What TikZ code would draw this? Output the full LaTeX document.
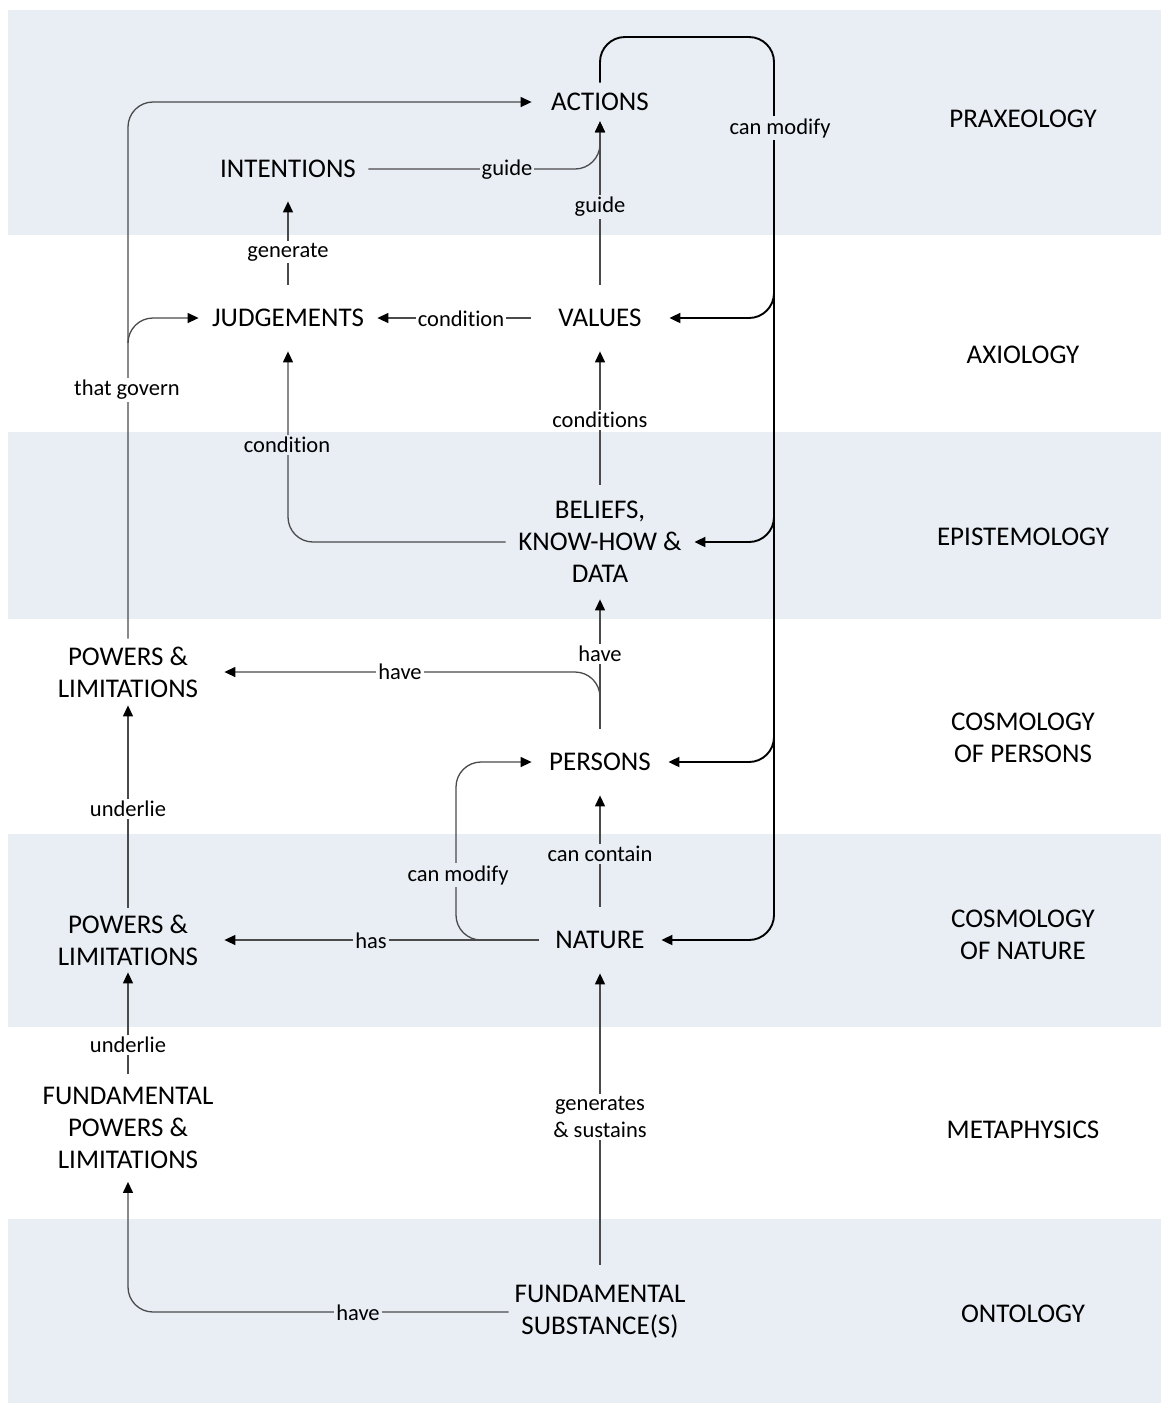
\documentclass[tikz,border=0pt]{standalone}
\usepackage{fontspec}
\setmainfont{Carlito}[Ligatures={NoCommon}]
\usetikzlibrary{arrows.meta}
\definecolor{band}{HTML}{E9EDF4}
\definecolor{lnc}{HTML}{4A4A4A}
\tikzset{
  box/.style 2 args={inner sep=0pt, minimum width=#1*0.5pt, minimum height=#2*0.5pt,
     align=center, font=\fontsize{13.5}{16}\selectfont},
  lay/.style={inner sep=0pt, align=center, font=\fontsize{13.5}{16}\selectfont},
  lblw/.style={fill=white, inner sep=1pt, align=center, font=\fontsize{11.25}{13.5}\selectfont},
  lblb/.style={fill=band, inner sep=1pt, align=center, font=\fontsize{11.25}{13.5}\selectfont},
  tip/.style={-{Triangle[length=5.5pt,width=5pt,color=black]}},
  conn/.style={draw=lnc, line width=0.65pt, rounded corners=12.5pt, tip},
  loopc/.style={draw=black, line width=0.95pt, rounded corners=12.5pt, tip}
}
\begin{document}
\begin{tikzpicture}[x=0.5pt,y=-0.5pt]
\useasboundingbox (0,0) rectangle (1161,1405);
% bands
\fill[band] (8,10) rectangle (1161,235);
\fill[band] (8,432) rectangle (1161,619);
\fill[band] (8,834) rectangle (1161,1027);
\fill[band] (8,1219) rectangle (1161,1403);
% layer names
\node[lay] (lpra) at (1023,119) {PRAXEOLOGY};
\node[lay] (laxi) at (1023,355) {AXIOLOGY};
\node[lay] (lepi) at (1023,537) {EPISTEMOLOGY};
\node[lay] (lcop) at (1023,738) {COSMOLOGY\\OF PERSONS};
\node[lay] (lcon) at (1023,935) {COSMOLOGY\\OF NATURE};
\node[lay] (lmet) at (1023,1130) {METAPHYSICS};
\node[lay] (lont) at (1023,1314) {ONTOLOGY};
% nodes
\node[box={136}{38}] (act) at (600,102) {ACTIONS};
\node[box={160}{64}] (int) at (288,169) {INTENTIONS};
\node[box={178}{66}] (jud) at (288,318) {JUDGEMENTS};
\node[box={138}{66}] (val) at (600,318) {VALUES};
\node[box={188}{114}] (bel) at (600,542) {BELIEFS,\\KNOW-HOW \&\\DATA};
\node[box={192}{66}] (pw1) at (128,672) {POWERS \&\\LIMITATIONS};
\node[box={136}{66}] (per) at (600,762) {PERSONS};
\node[box={192}{64}] (pw2) at (128,940) {POWERS \&\\LIMITATIONS};
\node[box={122}{66}] (nat) at (600,940) {NATURE};
\node[box={200}{107}] (fpw) at (128,1128) {FUNDAMENTAL\\POWERS \&\\LIMITATIONS};
\node[box={182}{94}] (fs) at (600,1312) {FUNDAMENTAL\\SUBSTANCE(S)};
% auxiliary coordinates
\coordinate (jbr) at (128,343);
\coordinate (cmv) at (456,850);
\coordinate (ltop) at (774,37);
\coordinate (lval) at (774,290);
\coordinate (lbel) at (774,514);
\coordinate (lper) at (774,734);
% connectors
\draw[conn] (pw1.north) |- (act.west);
\draw[conn] (jbr) |- (jud.west);
\draw[conn] (int.east) -| (act.south);
\draw[conn] (val.north) -- (act.south);
\draw[conn] (jud.north) -- (int.south);
\draw[conn] (val.west) -- (jud.east);
\draw[conn] (bel.north) -- (val.south);
\draw[conn] (bel.west) -| (jud.south);
\draw[conn] (per.north) -- (bel.south);
\draw[conn] (per.north) |- (pw1.east);
\draw[conn] (nat.north) -- (per.south);
\draw[conn] (nat.west) -- (pw2.east);
\draw[conn] (nat.west) -| (cmv) |- (per.west);
\draw[conn] (fs.north) -- (nat.south);
\draw[conn] (fs.west) -| (fpw.south);
\draw[conn] (fpw.north) -- (pw2.south);
\draw[conn] (pw2.north) -- (pw1.south);
% can modify loop
\draw[loopc] (act.north) |- (ltop) |- (nat.east);
\draw[loopc] (lval) |- (val.east);
\draw[loopc] (lbel) |- (bel.east);
\draw[loopc] (lper) |- (per.east);
% labels
\node[lblw] (t1) at (127,390) {that govern};
\node[lblb] (t2) at (507,170) {guide};
\node[lblb] (t3) at (600,207) {guide};
\node[lblw] (t4) at (288,252) {generate};
\node[lblw] (t5) at (461,319) {condition};
\node[lblw] (t6) at (600,420) {conditions};
\node[lblb] (t7) at (287,445) {condition};
\node[lblw] (t8) at (600,654) {have};
\node[lblw] (t9) at (400,672) {have};
\node[lblw] (t10) at (128,809) {underlie};
\node[lblb] (t11) at (600,854) {can contain};
\node[lblb] (t12) at (458,875) {can modify};
\node[lblb] (t13) at (371,941) {has};
\node[lblw] (t14) at (128,1045) {underlie};
\node[lblw] (t15) at (600,1117) {generates\\\& sustains};
\node[lblb] (t16) at (358,1313) {have};
\node[lblb] (t17) at (780,128) {can modify};
\end{tikzpicture}
\end{document}
